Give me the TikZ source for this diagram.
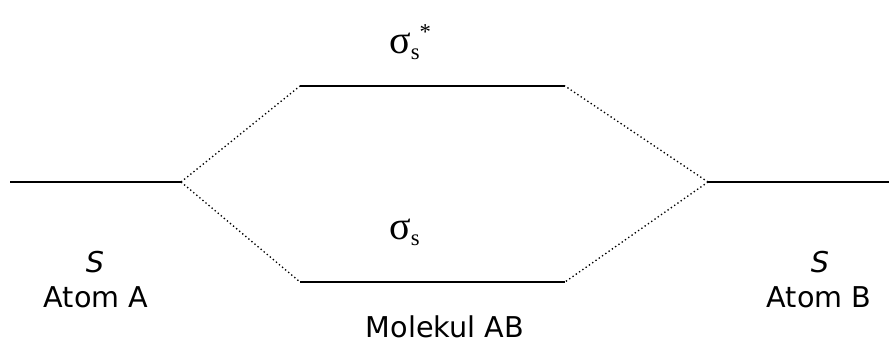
\documentclass[tikz,border=0pt]{standalone}
\usepackage{fontspec}
\setmainfont{DejaVu Sans}
\newfontfamily\greekfont{Liberation Serif}
% orbital symbol: serif sigma with lowered subscript and optional raised mark
\newcommand{\orbsym}[1]{{\greekfont\fontsize{30}{32}\selectfont σ}%
  {\greekfont\fontsize{17}{18}\selectfont\raisebox{-4.5pt}{s}}%
  {\greekfont\fontsize{17}{18}\selectfont\raisebox{11pt}{#1}}}
\begin{document}
\begin{tikzpicture}[x=0.75pt,y=-0.75pt,
  level/.style={line width=1.5pt},
  link/.style={line width=1pt,dotted},
  lbl/.style={font=\fontsize{21.5}{24}\selectfont,inner sep=0pt}]
\useasboundingbox (0,0) rectangle (890,345);
% energy levels
\coordinate (aL) at (10,182);  \coordinate (aR) at (181,182);
\coordinate (bL) at (708,182); \coordinate (bR) at (889,182);
\coordinate (tL) at (300,86);  \coordinate (tR) at (565,86);
\coordinate (mL) at (300,282); \coordinate (mR) at (565,282);
\draw[level] (aL) -- (aR);
\draw[level] (bL) -- (bR);
\draw[level] (tL) -- (tR);
\draw[level] (mL) -- (mR);
% correlation lines
\draw[link] (aR) -- (tL);
\draw[link] (aR) -- (mL);
\draw[link] (bL) -- (tR);
\draw[link] (bL) -- (mR);
% labels
\node[inner sep=0pt,anchor=base west] (anti) at (389,54) {\orbsym{*}};
\node[inner sep=0pt,anchor=base west] (bond) at (389,240) {\orbsym{}};
\node[lbl,anchor=base] (sA) at (95,273) {\itshape S};
\node[lbl,anchor=base] (atA) at (96,308) {Atom A};
\node[lbl,anchor=base] (sB) at (820,273) {\itshape S};
\node[lbl,anchor=base] (atB) at (819,308) {Atom B};
\node[lbl,anchor=base] (mol) at (445,338) {Molekul AB};
\end{tikzpicture}
\end{document}
